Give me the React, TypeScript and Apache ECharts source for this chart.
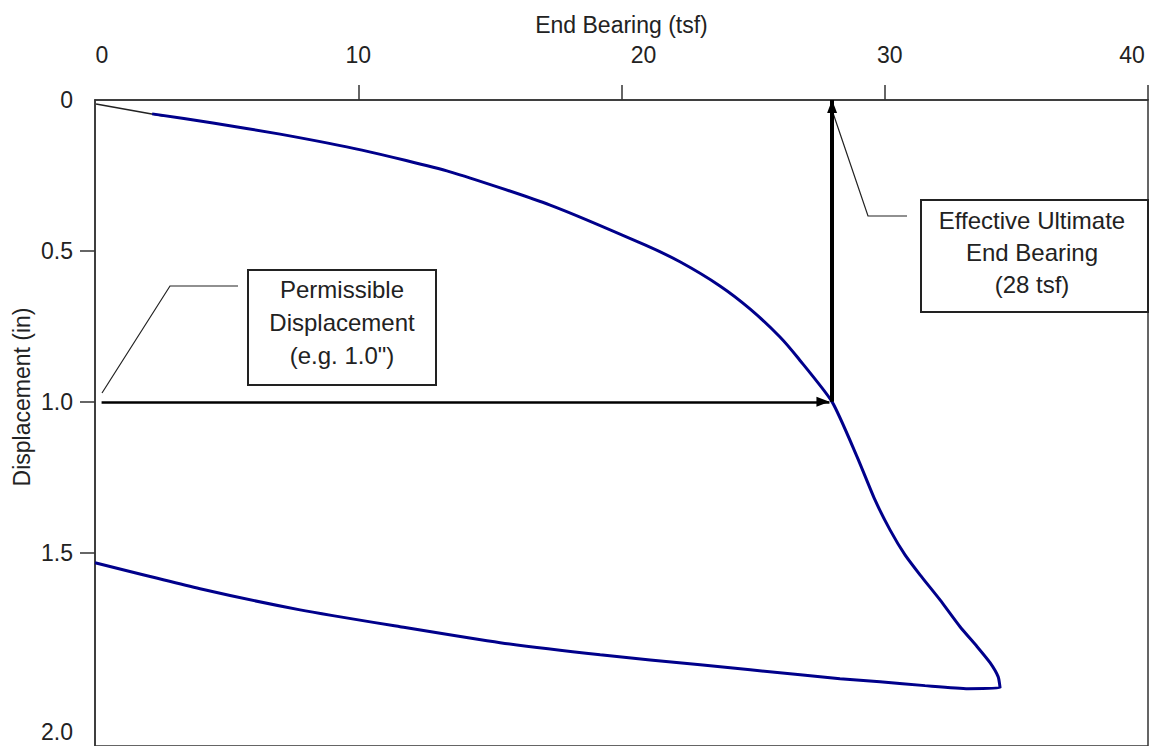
import React, { useEffect, useRef } from "react";
import * as echarts from "echarts";

// Axis ticks
const bearingTicks = [0, 10, 20, 30, 40];
const displacementTicks = [0, 0.5, 1.0, 1.5, 2.0];

// Loading branch of the end-bearing curve (tsf vs in)
const loadingBearing = [2.17, 4.48, 7.03, 10.14, 13.49, 17.29, 20.89, 22.22, 23.74, 24.88, 26.02, 26.7, 28.0, 28.95, 29.63, 30.2, 30.77, 31.34, 32.1, 32.86, 33.51, 34.0, 34.31, 34.38];
const loadingDisp = [0.046, 0.076, 0.113, 0.166, 0.238, 0.348, 0.48, 0.536, 0.616, 0.692, 0.785, 0.854, 1.0, 1.182, 1.325, 1.424, 1.507, 1.573, 1.656, 1.745, 1.811, 1.864, 1.911, 1.947];

// Unloading branch
const unloadBearing = [33.17, 31.53, 29.82, 28.3, 26.79, 22.99, 19.19, 15.39, 11.59, 7.79, 3.99, 0];
const unloadDisp = [1.95, 1.94, 1.927, 1.917, 1.904, 1.871, 1.838, 1.798, 1.745, 1.689, 1.619, 1.533];

// Initial seating segment
const seatBearing = [0.04, 2.58];
const seatDisp = [0.013, 0.053];

// Annotated values
const ultimateBearing = 28;
const permissibleDisp = 1.0;
const arrowStart = 0.25;

const FONT = "'Liberation Sans', Arial, sans-serif";
const TEXT = "#222";
const AXIS = "#333";

export default function App() {
  const ref = useRef<HTMLDivElement>(null);

  useEffect(() => {
    if (!ref.current) return;
    const chart = echarts.init(ref.current, null, { renderer: "svg" });

    const curve = [
      ...loadingBearing.map((x, i) => [x, loadingDisp[i]]),
      ...unloadBearing.map((x, i) => [x, unloadDisp[i]]),
    ];
    const seat = seatBearing.map((x, i) => [x, seatDisp[i]]);

    const richBase = { fontSize: 23, fontFamily: FONT, color: TEXT };
    // arrow head: tip placed on the end coordinate
    const head = {
      symbol: "triangle",
      symbolOffset: [0, "50%"],
      itemStyle: { color: "#000" },
    };

    chart.setOption({
      animation: false,
      backgroundColor: "#fff",
      textStyle: { fontFamily: FONT },
      grid: {
        left: 95,
        top: 100,
        width: 1053,
        height: 646,
        show: true,
        borderColor: AXIS,
        borderWidth: 1.5,
        backgroundColor: "transparent",
      },
      xAxis: {
        type: "value",
        position: "top",
        min: 0,
        max: 40,
        interval: 10,
        name: "End Bearing (tsf)",
        nameLocation: "middle",
        nameGap: 64,
        nameTextStyle: { fontSize: 23, fontFamily: FONT, color: TEXT },
        axisLine: { show: true, lineStyle: { color: AXIS, width: 1.5 } },
        axisTick: {
          show: true,
          inside: false,
          length: 15,
          customValues: bearingTicks.filter((v) => v !== 0),
          lineStyle: { color: AXIS, width: 1.5 },
        },
        axisLabel: {
          customValues: bearingTicks,
          margin: 34,
          fontSize: 23,
          fontFamily: FONT,
          color: TEXT,
          formatter: (v: number) => {
            if (v === 0) return "{z|0}";
            if (v === 20) return "{t|20}";
            if (v === 30) return "{r|30}";
            if (v === 40) return "{f|40}";
            return String(v);
          },
          rich: {
            z: { ...richBase, padding: [0, 0, 0, 14] },
            t: { ...richBase, padding: [0, 0, 0, 44] },
            r: { ...richBase, padding: [0, 0, 0, 10] },
            f: { ...richBase, padding: [0, 32, 0, 0] },
          },
        },
        splitLine: { show: false },
      },
      yAxis: {
        type: "value",
        inverse: true,
        min: 0,
        max: 2.14,
        interval: 0.5,
        axisLine: { show: true, lineStyle: { color: AXIS, width: 1.5 } },
        axisTick: {
          show: true,
          inside: false,
          length: 15,
          customValues: displacementTicks.filter((v) => v !== 0 && v !== 2),
          lineStyle: { color: AXIS, width: 1.5 },
        },
        axisLabel: {
          customValues: displacementTicks,
          margin: 22,
          fontSize: 23,
          fontFamily: FONT,
          color: TEXT,
          formatter: (v: number) => {
            if (v === 0) return "0";
            if (v === 2) return "{low|2.0}";
            return v.toFixed(1);
          },
          rich: {
            low: { ...richBase, padding: [56, 0, 0, 0] },
          },
        },
        splitLine: { show: false },
      },
      series: [
        {
          name: "End bearing",
          type: "line",
          data: curve,
          showSymbol: false,
          symbol: "none",
          smooth: 0.2,
          lineStyle: { color: "#00008b", width: 3 },
          z: 3,
        },
        {
          name: "Seating",
          type: "line",
          data: seat,
          symbol: "none",
          lineStyle: { color: "#222", width: 1.5 },
          z: 2,
          markLine: {
            silent: true,
            animation: false,
            symbol: ["none", "triangle"],
            symbolSize: [10, 13],
            symbolOffset: 0,
            itemStyle: { color: "#000" },
            label: { show: false },
            emphasis: { disabled: true },
            data: [
              [
                {
                  coord: [ultimateBearing, permissibleDisp],
                  symbol: "none",
                  lineStyle: { color: "#000", width: 4, type: "solid" },
                },
                { coord: [ultimateBearing, 0], ...head },
              ],
              [
                {
                  coord: [arrowStart, permissibleDisp],
                  symbol: "none",
                  lineStyle: { color: "#000", width: 2.5, type: "solid" },
                },
                { coord: [ultimateBearing - 0.1, permissibleDisp], ...head },
              ],
            ],
          },
        },
      ],
      graphic: [
        {
          type: "text",
          x: 22,
          y: 397,
          rotation: Math.PI / 2,
          style: {
            text: "Displacement (in)",
            fontSize: 23,
            fontFamily: FONT,
            fill: TEXT,
            align: "center",
            verticalAlign: "middle",
          },
        },
        {
          type: "polyline",
          shape: { points: [[102, 393], [170, 286], [238, 286]] },
          style: { stroke: "#222", lineWidth: 1.2, fill: null },
        },
        {
          type: "rect",
          shape: { x: 248, y: 270, width: 188, height: 115 },
          style: { fill: "#fff", stroke: "#222", lineWidth: 2 },
        },
        {
          type: "text",
          x: 342,
          y: 322,
          style: {
            text: 'Permissible\nDisplacement\n(e.g. 1.0")',
            fontSize: 24,
            fontFamily: FONT,
            fill: TEXT,
            align: "center",
            verticalAlign: "middle",
            lineHeight: 33,
          },
        },
        {
          type: "polyline",
          shape: { points: [[832, 110], [868, 216], [907, 216]] },
          style: { stroke: "#222", lineWidth: 1.2, fill: null },
        },
        {
          type: "rect",
          shape: { x: 921, y: 200, width: 227, height: 112 },
          style: { fill: "#fff", stroke: "#222", lineWidth: 2 },
        },
        {
          type: "text",
          x: 1032,
          y: 252,
          style: {
            text: "Effective Ultimate\nEnd Bearing\n(28 tsf)",
            fontSize: 24,
            fontFamily: FONT,
            fill: TEXT,
            align: "center",
            verticalAlign: "middle",
            lineHeight: 32,
          },
        },
      ],
    });

    return () => chart.dispose();
  }, []);

  return (
    <div
      ref={ref}
      style={{ position: "fixed", left: 0, top: 0, width: 1154, height: 746, background: "#fff" }}
    />
  );
}
